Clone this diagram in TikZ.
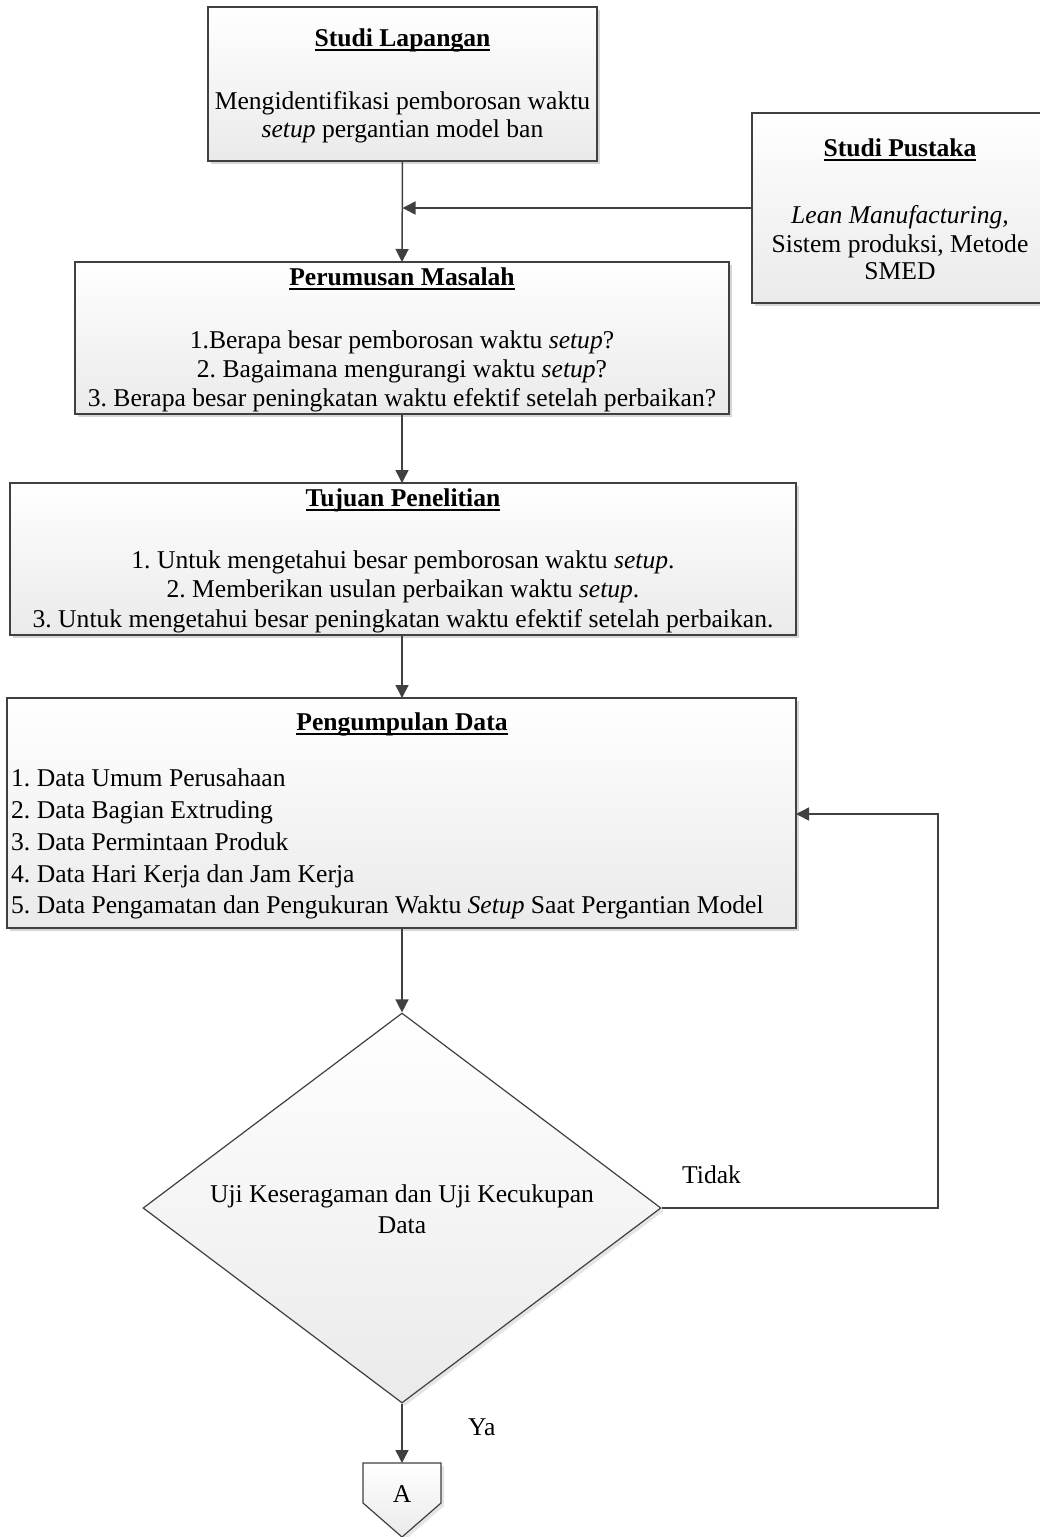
\documentclass[tikz,border=0pt]{standalone}
\usepackage{fontspec}
\setmainfont{Liberation Serif}
\usetikzlibrary{arrows.meta,shapes.geometric,shadows}
\frenchspacing

\definecolor{edge}{RGB}{64,64,64}
\definecolor{shadebot}{RGB}{234,234,234}

% underlined heading: text with a rule a little below the baseline
\newsavebox\ulbox
\newcommand\ulbar[1]{\sbox\ulbox{#1}\rlap{\usebox\ulbox}\rule[-4.5pt]{\wd\ulbox}{1.5pt}}

\tikzset{
  box/.style={draw=edge, line width=1.5pt, top color=white, bottom color=shadebot,
    drop shadow={shadow xshift=3pt, shadow yshift=-3pt, fill=black, opacity=0.16},
    inner sep=0pt, outer sep=0pt, anchor=north west},
  txt/.style={inner sep=0pt, anchor=base, font=\fontsize{25.6}{30}\selectfont},
  ltxt/.style={txt, anchor=base west},
  ttl/.style={txt, font=\fontsize{25.6}{30}\selectfont\bfseries},
  arr/.style={draw=edge, line width=1.5pt, -{Triangle[length=13pt,width=13pt]}}
}

\begin{document}
\begin{tikzpicture}[x=1pt,y=-1pt]
\useasboundingbox (0,0) rectangle (1040,1537);

% process boxes
\node[box, minimum width=389pt, minimum height=154pt] (sl) at (208,7) {};
\node[box, minimum width=296pt, minimum height=190pt] (sp) at (752,113) {};
\node[box, minimum width=654pt, minimum height=152pt] (pm) at (75,262) {};
\node[box, minimum width=786pt, minimum height=152pt] (tp) at (10,483) {};
\node[box, minimum width=789pt, minimum height=230pt] (pd) at (7,698) {};

% decision
\node[diamond, draw=edge, line width=1.2pt, top color=white, bottom color=shadebot,
  drop shadow={shadow xshift=3pt, shadow yshift=-3pt, fill=black, opacity=0.1},
  minimum width=518pt, minimum height=390pt, inner sep=0pt] (dia) at (402,1208) {};

% off-page connector
\path[draw=edge, line width=1.2pt, top color=white, bottom color=shadebot,
  drop shadow={shadow xshift=3pt, shadow yshift=-3pt, fill=black, opacity=0.1}]
  (363,1463) -- (441,1463) -- (441,1503) -- (402,1537) -- (363,1503) -- cycle;
\coordinate (conTop) at (402,1463);

% texts
\node[ttl] (slT) at (402.5,46) {\ulbar{Studi Lapangan}};
\node[txt] (sl1) at (402.5,109) {Mengidentifikasi pemborosan waktu};
\node[txt] (sl2) at (402.5,137) {\textit{setup} pergantian model ban};

\node[ttl] (spT) at (900,156) {\ulbar{Studi Pustaka}};
\node[txt] (sp1) at (900,223) {\textit{Lean Manufacturing,}};
\node[txt] (sp2) at (900,252) {Sistem produksi, Metode};
\node[txt] (sp3) at (900,279) {SMED};

\node[ttl] (pmT) at (402,285) {\ulbar{Perumusan Masalah}};
\node[txt] (pm1) at (402,348) {1.Berapa besar pemborosan waktu \textit{setup}?};
\node[txt] (pm2) at (402,377) {2. Bagaimana mengurangi waktu \textit{setup}?};
\node[txt] (pm3) at (402,406) {3. Berapa besar peningkatan waktu efektif setelah perbaikan?};

\node[ttl] (tpT) at (403,506) {\ulbar{Tujuan Penelitian}};
\node[txt] (tp1) at (403,568) {1. Untuk mengetahui besar pemborosan waktu \textit{setup}.};
\node[txt] (tp2) at (403,597) {2. Memberikan usulan perbaikan waktu \textit{setup}.};
\node[txt] (tp3) at (403,627) {3. Untuk mengetahui besar peningkatan waktu efektif setelah perbaikan.};

\node[ttl] (pdT) at (402,730) {\ulbar{Pengumpulan Data}};
\node[ltxt] (pd1) at (11,786) {1. Data Umum Perusahaan};
\node[ltxt] (pd2) at (11,818) {2. Data Bagian Extruding};
\node[ltxt] (pd3) at (11,850) {3. Data Permintaan Produk};
\node[ltxt] (pd4) at (11,882) {4. Data Hari Kerja dan Jam Kerja};
\node[ltxt] (pd5) at (11,913) {5. Data Pengamatan dan Pengukuran Waktu \textit{Setup} Saat Pergantian Model};

\node[txt] (dia1) at (402,1202) {Uji Keseragaman dan Uji Kecukupan};
\node[txt] (dia2) at (402,1233) {Data};

\node[ltxt] (no) at (682,1183) {Tidak};
\node[ltxt] (yes) at (468,1435) {Ya};
\node[txt] (conA) at (402,1502) {A};

% connectors
\draw[arr] (sl.south) -- (pm.north);
\draw[arr] (sp.west) -- (sp.west -| sl.south);
\draw[arr] (pm.south) -- (tp.north -| pm.south);
\draw[arr] (tp.south -| pm.south) -- (pd.north -| pm.south);
\draw[arr] (pd.south -| dia.north) -- (dia.north);
\coordinate (fbTurn) at (938,814);
\draw[arr] (dia.east) -| (fbTurn) -- (fbTurn -| pd.east);
\draw[arr] (dia.south) -- (conTop);
\end{tikzpicture}
\end{document}
